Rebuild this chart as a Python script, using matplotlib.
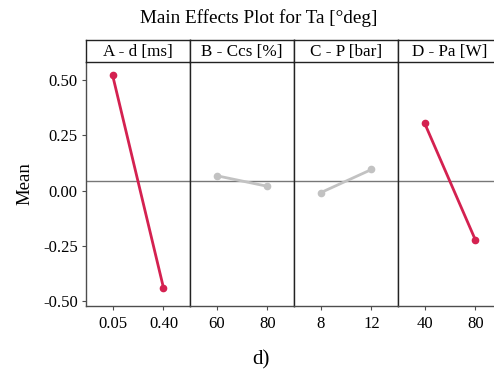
import matplotlib
matplotlib.use("Agg")
import matplotlib.pyplot as plt

# factor panels
factors = ["A - d [ms]", "B - Ccs [%]", "C - P [bar]", "D - Pa [W]"]
level_labels = [["0.05", "0.40"], ["60", "80"], ["8", "12"], ["40", "80"]]
means_a = [0.522, -0.439]
means_b = [0.067, 0.019]
means_c = [-0.010, 0.095]
means_d = [0.305, -0.224]
grand_mean = 0.043
significant = [True, False, False, True]

RED = "#D42150"
GREY = "#C2C2C2"
EDGE = "#4d4d4d"

plt.rcParams["font.family"] = ["Liberation Serif", "DejaVu Serif"]

fig = plt.figure(figsize=(4.94, 3.72), dpi=100)

left, width = 86 / 494, 104 / 494
bottom, top = 1 - 306 / 372, 1 - 62 / 372
strip_h = 22 / 372

all_means = [means_a, means_b, means_c, means_d]
for i, (name, labels, vals) in enumerate(zip(factors, level_labels, all_means)):
    x0 = left + i * width
    ax = fig.add_axes([x0, bottom, width, top - bottom])
    color = RED if significant[i] else GREY
    ax.axhline(grand_mean, color="#777777", lw=1.0, zorder=1)
    ax.plot([0, 1], vals, color=color, lw=2.0, marker="o", ms=4.5, zorder=3)
    ax.set_xlim(-0.52, 1.52)
    ax.set_ylim(-0.521, 0.58)
    ax.set_xticks([0, 1])
    ax.set_xticklabels(labels, fontsize=12)
    ax.tick_params(axis="x", length=3, color=EDGE, pad=4)
    for s in ax.spines.values():
        s.set_color(EDGE)
        s.set_linewidth(1.0)
    ax.spines["top"].set_visible(False)
    if i == 0:
        ax.set_yticks([-0.5, -0.25, 0.0, 0.25, 0.5])
        ax.set_yticklabels(["-0.50", "-0.25", "0.00", "0.25", "0.50"], fontsize=12)
        ax.tick_params(axis="y", length=3, color=EDGE, pad=3)
        ax.set_ylabel("Mean", fontsize=13.5, labelpad=7)
    else:
        ax.set_yticks([])
        ax.spines["left"].set_color("#222222")

    # strip header
    sx = fig.add_axes([x0, top, width, strip_h])
    sx.set_xticks([])
    sx.set_yticks([])
    for s in sx.spines.values():
        s.set_color("#222222")
        s.set_linewidth(1.0)
    sx.text(0.5, 0.45, name, ha="center", va="center", fontsize=12.3,
            transform=sx.transAxes)

fig.text(259 / 494, 1 - 18 / 372,
         "Main Effects Plot for Ta [°deg]", ha="center", va="center", fontsize=13.8)
fig.text(261 / 494, 1 - 360 / 372, "d)", ha="center", va="center", fontsize=15)

fig.savefig("out.png", dpi=100)
